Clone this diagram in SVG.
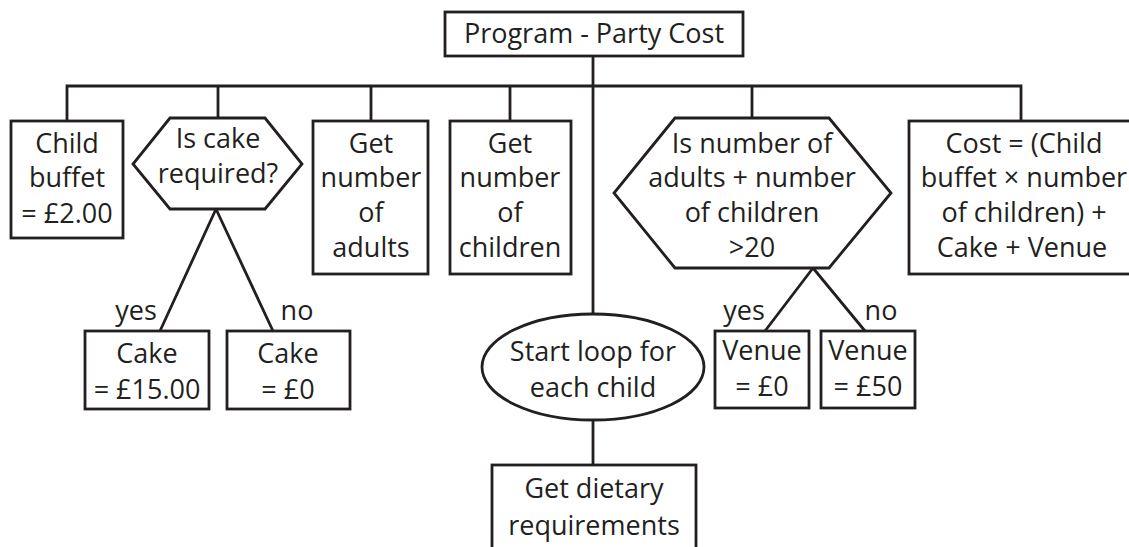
<svg xmlns="http://www.w3.org/2000/svg" width="1129" height="547" viewBox="0 0 1129 547">
<style>
.s{fill:#fff;stroke:#231f20;stroke-width:2.8}
.c{fill:none;stroke:#231f20;stroke-width:2.8}
text{font-family:"Open Sans","Liberation Sans",sans-serif;font-size:27px;fill:#231f20;text-anchor:middle}
</style>
<rect width="1129" height="547" fill="#fff"/>
<g id="connectors">
<path class="c" d="M593 56V314M67 121V86H1021V121M218 86V118M371 86V121M510 86V121M752 86V118M593 420V465"/>
<path class="c" d="M216 209L160 331M216 209L273 331M813 268L765 331M813 268L865 331"/>
</g>
<g id="n-top"><rect class="s" x="445" y="12" width="298" height="44"/><text x="594" y="43">Program - Party Cost</text></g>
<g id="n-buffet"><rect class="s" x="11" y="121" width="112" height="117"/><text x="67" y="153">Child</text><text x="67" y="187">buffet</text><text x="67" y="223">= £2.00</text></g>
<g id="n-cakeq"><polygon class="s" points="170,118 265,118 302,164 265,209 170,209 133,164"/><text x="218" y="148">Is cake</text><text x="218" y="183">required?</text></g>
<g id="n-adults"><rect class="s" x="313" y="121" width="115" height="153"/><text x="371" y="153">Get</text><text x="371" y="187">number</text><text x="371" y="222">of</text><text x="371" y="257">adults</text></g>
<g id="n-children"><rect class="s" x="450" y="121" width="121" height="153"/><text x="510" y="153">Get</text><text x="510" y="187">number</text><text x="510" y="222">of</text><text x="510" y="257">children</text></g>
<g id="n-venueq"><polygon class="s" points="675,118 829,118 891,193 829,268 675,268 614,193"/><text x="752" y="153">Is number of</text><text x="752" y="187">adults + number</text><text x="752" y="222">of children</text><text x="752" y="257">&gt;20</text></g>
<g id="n-cost"><rect class="s" x="909" y="121" width="230" height="153"/><text x="1024" y="153">Cost = (Child</text><text x="1024" y="187">buffet × number</text><text x="1024" y="222">of children) +</text><text x="1022" y="257">Cake + Venue</text></g>
<g id="labels"><text x="136" y="320">yes</text><text x="297" y="320">no</text><text x="744" y="320">yes</text><text x="881" y="320">no</text></g>
<g id="n-cake15"><rect class="s" x="85" y="331" width="124" height="78"/><text x="147" y="363">Cake</text><text x="147" y="399">= £15.00</text></g>
<g id="n-cake0"><rect class="s" x="227" y="331" width="123" height="78"/><text x="288" y="363">Cake</text><text x="288" y="399">= £0</text></g>
<g id="n-loop"><ellipse class="s" cx="593" cy="367" rx="111" ry="53"/><text x="593" y="361">Start loop for</text><text x="593" y="397">each child</text></g>
<g id="n-venue0"><rect class="s" x="715" y="331" width="94" height="77"/><text x="762" y="360">Venue</text><text x="762" y="396">= £0</text></g>
<g id="n-venue50"><rect class="s" x="821" y="331" width="94" height="77"/><text x="868" y="360">Venue</text><text x="868" y="396">= £50</text></g>
<g id="n-diet"><rect class="s" x="492" y="465" width="204" height="90"/><text x="594" y="498">Get dietary</text><text x="594" y="535">requirements</text></g>
</svg>
